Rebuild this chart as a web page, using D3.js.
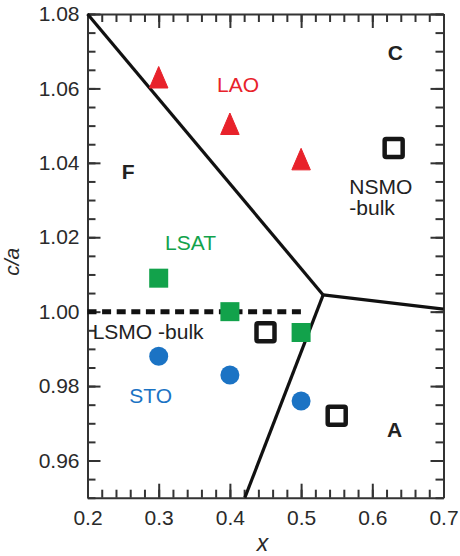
<!DOCTYPE html>
<html>
<head>
<meta charset="utf-8">
<script src="https://cdn.jsdelivr.net/npm/d3@7"></script>
<style>
  html, body { margin: 0; padding: 0; background: #fff; }
  svg { display: block; font-family: "Liberation Sans", Arial, Helvetica, sans-serif; }
</style>
</head>
<body>
<svg id="chart" width="460" height="556"></svg>
<script>
// Substrate series: doping x vs tetragonality c/a
const laoX = [0.3, 0.4, 0.5];
const laoCA = [1.063, 1.0505, 1.041];
const lsatX = [0.3, 0.4, 0.5];
const lsatCA = [1.009, 1.000, 0.9944];
const stoX = [0.3, 0.4, 0.5];
const stoCA = [0.988, 0.983, 0.976];
const nsmoX = [0.45, 0.55, 0.63];
const nsmoCA = [0.9945, 0.972, 1.044];

// Phase boundaries meeting at a triple point
const triplePoint = [0.531, 1.0045];
const boundaryEnds = [[0.2, 1.08], [0.7, 1.0007], [0.421, 0.95]];

// LSMO bulk reference level
const lsmoBulkX = [0.2, 0.5];
const lsmoBulkCA = 1.00;

// Axis ticks
const xTicks = [0.2, 0.3, 0.4, 0.5, 0.6, 0.7];
const xMinorTicks = d3.range(0.2, 0.7001, 0.02);
const yTicks = [0.96, 0.98, 1.00, 1.02, 1.04, 1.06, 1.08];
const yMinorTicks = d3.range(0.95, 1.0801, 0.005);

const colors = { lao: "#e8222b", lsat: "#12a24b", sto: "#1b73c4", ink: "#1e1e1e", axis: "#333" };

const svg = d3.select("#chart");
const padL = 87.5, padR = 443.5, padT = 14, padB = 497.7;

const x = d3.scaleLinear().domain([0.2, 0.7]).range([padL, padR]);
const y = d3.scaleLinear().domain([0.95, 1.08]).range([padB, padT]);

const fmt = d3.format(".2f");
const fmtX = d3.format(".1f");

function styleAxis(g) {
  g.selectAll(".domain").attr("stroke", colors.axis).attr("stroke-width", 2);
  g.selectAll(".tick line").attr("stroke", colors.axis).attr("stroke-width", 2);
  g.selectAll(".tick text").attr("fill", "#2a2a2a").style("font-size", "21px")
    .style("font-family", "\"Liberation Sans\", Arial, sans-serif");
}

// minor ticks (all four sides, pointing inward)
svg.append("g").attr("transform", `translate(0,${padB})`)
  .call(d3.axisBottom(x).tickValues(xMinorTicks).tickSize(-8).tickFormat(""))
  .call(styleAxis).call(g => g.select(".domain").remove());
svg.append("g").attr("transform", `translate(0,${padT})`)
  .call(d3.axisTop(x).tickValues(xMinorTicks).tickSize(-8).tickFormat(""))
  .call(styleAxis).call(g => g.select(".domain").remove());
svg.append("g").attr("transform", `translate(${padL},0)`)
  .call(d3.axisLeft(y).tickValues(yMinorTicks).tickSize(-8).tickFormat(""))
  .call(styleAxis).call(g => g.select(".domain").remove());
svg.append("g").attr("transform", `translate(${padR},0)`)
  .call(d3.axisRight(y).tickValues(yMinorTicks).tickSize(-8).tickFormat(""))
  .call(styleAxis).call(g => g.select(".domain").remove());

// major ticks with labels
svg.append("g").attr("transform", `translate(0,${padB})`)
  .call(d3.axisBottom(x).tickValues(xTicks).tickSizeInner(-14).tickSizeOuter(0).tickPadding(12).tickFormat(fmtX))
  .call(styleAxis);
svg.append("g").attr("transform", `translate(0,${padT})`)
  .call(d3.axisTop(x).tickValues(xTicks).tickSizeInner(-14).tickSizeOuter(0).tickFormat(""))
  .call(styleAxis);
svg.append("g").attr("transform", `translate(${padL},0)`)
  .call(d3.axisLeft(y).tickValues(yTicks).tickSizeInner(-13).tickSizeOuter(0).tickPadding(8).tickFormat(fmt))
  .call(styleAxis);
svg.append("g").attr("transform", `translate(${padR},0)`)
  .call(d3.axisRight(y).tickValues(yTicks).tickSizeInner(-13).tickSizeOuter(0).tickFormat(""))
  .call(styleAxis);

// axis titles
svg.append("text")
  .attr("transform", `translate(19,${(padT + padB) / 2 + 6}) rotate(-90)`)
  .attr("text-anchor", "middle")
  .style("font-size", "21px").style("font-style", "italic").attr("fill", "#2a2a2a")
  .text("c/a");
svg.append("text")
  .attr("x", (padL + padR) / 2 - 3).attr("y", 551)
  .attr("text-anchor", "middle")
  .style("font-size", "23px").style("font-style", "italic").attr("fill", "#2a2a2a")
  .text("x");

const plot = svg.append("g");

// phase boundaries
const line = d3.line().x(d => x(d[0])).y(d => y(d[1]));
boundaryEnds.forEach(end => {
  plot.append("path")
    .attr("d", line([end, triplePoint]))
    .attr("fill", "none").attr("stroke", "#111").attr("stroke-width", 3.2)
    .attr("stroke-linecap", "butt");
});

// LSMO bulk dashed reference
plot.append("path")
  .attr("d", line(lsmoBulkX.map(v => [v, lsmoBulkCA])))
  .attr("fill", "none").attr("stroke", "#111").attr("stroke-width", 5)
  .attr("stroke-dasharray", "9,5.6");

// LAO: filled triangles
const triW = 18.5, triH = 21.5;
plot.selectAll(".lao").data(laoX.map((v, i) => [v, laoCA[i]])).join("path")
  .attr("class", "lao")
  .attr("d", d => {
    const cx = x(d[0]), cy = y(d[1]);
    return `M${cx},${cy - triH / 2}L${cx + triW / 2},${cy + triH / 2}L${cx - triW / 2},${cy + triH / 2}Z`;
  })
  .attr("fill", colors.lao).attr("stroke", colors.lao).attr("stroke-width", 1).attr("stroke-linejoin", "round");

// LSAT: filled squares
const sq = 19;
plot.selectAll(".lsat").data(lsatX.map((v, i) => [v, lsatCA[i]])).join("rect")
  .attr("class", "lsat")
  .attr("x", d => x(d[0]) - sq / 2).attr("y", d => y(d[1]) - sq / 2)
  .attr("width", sq).attr("height", sq)
  .attr("fill", colors.lsat);

// STO: filled circles
plot.selectAll(".sto").data(stoX.map((v, i) => [v, stoCA[i]])).join("circle")
  .attr("class", "sto")
  .attr("cx", d => x(d[0])).attr("cy", d => y(d[1])).attr("r", 9.5)
  .attr("fill", colors.sto);

// NSMO: open squares
const osq = 18;
plot.selectAll(".nsmo").data(nsmoX.map((v, i) => [v, nsmoCA[i]])).join("rect")
  .attr("class", "nsmo")
  .attr("x", d => x(d[0]) - osq / 2).attr("y", d => y(d[1]) - osq / 2)
  .attr("width", osq).attr("height", osq).attr("rx", 1.5)
  .attr("fill", "none").attr("stroke", "#161616").attr("stroke-width", 4.5);

// series and phase labels
const labels = [
  { t: "LAO", x: 0.382, y: 1.059, c: colors.lao },
  { t: "LSAT", x: 0.309, y: 1.0166, c: colors.lsat },
  { t: "STO", x: 0.2587, y: 0.9755, c: colors.sto },
  { t: "LSMO -bulk", x: 0.2073, y: 0.9926, c: "#222" },
  { t: "NSMO", x: 0.5677, y: 1.0316, c: "#222" },
  { t: "-bulk", x: 0.5677, y: 1.026, c: "#222" },
  { t: "C", x: 0.6216, y: 1.0677, c: "#222", b: true },
  { t: "F", x: 0.248, y: 1.0357, c: "#222", b: true },
  { t: "A", x: 0.6206, y: 0.9663, c: "#222", b: true }
];
plot.selectAll(".lbl").data(labels).join("text")
  .attr("class", "lbl")
  .attr("x", d => x(d.x)).attr("y", d => y(d.y))
  .attr("fill", d => d.c)
  .style("font-size", "21px")
  .style("font-weight", d => d.b ? "bold" : "normal")
  .text(d => d.t);
</script>
</body>
</html>
